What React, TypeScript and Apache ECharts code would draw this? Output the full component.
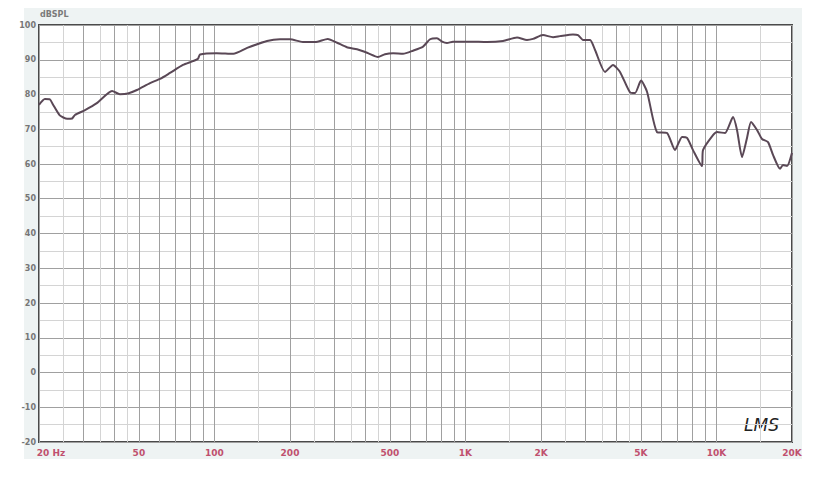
import React, { useEffect, useRef } from "react";
import * as echarts from "echarts";

// Frequency response (Hz -> dB SPL)
const FREQ = [20, 21.1, 22.1, 22.7, 24.2, 25.9, 27.1, 27.8, 30.5, 34.0, 39.1, 42.0, 45.2, 49.1, 55.4, 60.7, 66.5, 74.9, 82.1, 86, 87.6, 102, 119, 135, 162, 182.5, 200, 225, 252, 283, 308, 337, 370, 409, 448, 478, 515, 564, 618, 678, 723, 770, 807, 844, 892, 1043, 1219, 1412, 1605, 1759, 1858, 2037, 2233, 2380, 2682, 2808, 2940, 3137, 3284, 3598, 3872, 4128, 4526, 4738, 5006, 5290, 5798, 6356, 6839, 7293, 7635, 8066, 8758, 8840, 9690, 10052, 10818, 11642, 12077, 12644, 13236, 13732, 14510, 15193, 16052, 16805, 17920, 18418, 19108, 20000];
const SPL = [77.0, 78.7, 78.6, 77.2, 74.0, 73.0, 73.1, 74.1, 75.5, 77.5, 81.0, 80.1, 80.3, 81.3, 83.3, 84.5, 86.2, 88.5, 89.6, 90.3, 91.5, 91.9, 91.7, 93.4, 95.4, 95.9, 95.9, 95.1, 95.1, 96.0, 94.9, 93.6, 93.0, 91.9, 90.8, 91.6, 91.9, 91.7, 92.6, 93.8, 95.9, 96.2, 95.2, 94.8, 95.2, 95.2, 95.1, 95.4, 96.4, 95.7, 96.0, 97.1, 96.5, 96.8, 97.3, 97.1, 95.7, 95.7, 92.8, 86.5, 88.5, 86.5, 80.6, 80.4, 84.0, 80.8, 69.2, 68.9, 64.0, 67.8, 67.5, 64.0, 59.4, 64.0, 68.3, 69.2, 68.9, 73.5, 69.8, 62.0, 67.5, 72.1, 69.8, 67.2, 66.3, 62.6, 58.6, 59.7, 59.4, 63.2];

// Axis ticks / grid
const X_LABEL_FREQS = [20, 50, 100, 200, 500, 1000, 2000, 5000, 10000, 20000];
const X_LABEL_TEXTS = ["20 Hz", "50", "100", "200", "500", "1K", "2K", "5K", "10K", "20K"];
const GRID_MAJOR = [20, 30, 40, 50, 60, 70, 80, 90, 100, 200, 300, 400, 500, 600, 700, 800, 900, 1000, 2000, 3000, 4000, 5000, 6000, 7000, 8000, 9000, 10000, 20000];
const GRID_MINOR = [25, 35, 45, 150, 250, 350, 450, 1500, 2500, 3500, 4500, 15000];
const Y_MIN = -20;
const Y_MAX = 100;
const Y_STEP = 10;
const F_MIN = 20;
const F_MAX = 20000;

export default function App() {
  const ref = useRef<HTMLDivElement>(null);
  useEffect(() => {
    if (!ref.current) return;
    const chart = echarts.init(ref.current, null, { renderer: "svg" });
    const lg = (f: number) => Math.log10(f);
    const xMin = lg(F_MIN);
    const xMax = lg(F_MAX);
    const labelFor = (v: number) => {
      for (let i = 0; i < X_LABEL_FREQS.length; i++) {
        if (Math.abs(lg(X_LABEL_FREQS[i]) - v) < 1e-6) return X_LABEL_TEXTS[i];
      }
      return "";
    };
    chart.setOption({
      animation: false,
      backgroundColor: "#ffffff",
      grid: {
        left: 39,
        top: 25,
        right: 22,
        bottom: 35,
        show: true,
        backgroundColor: "#ffffff",
        borderColor: "#4a4a4a",
        borderWidth: 2,
      },
      graphic: [
        {
          type: "rect",
          z: -10,
          shape: { x: 24, y: 8, width: 778, height: 451 },
          style: { fill: "#eef3f3" },
        },
        {
          type: "text",
          left: 40,
          top: 10,
          style: { text: "dBSPL", fill: "#7a7a7a", font: "bold 8px 'DejaVu Sans'" },
        },
        {
          type: "text",
          left: 744,
          top: 416,
          style: { text: "LMS", fill: "#222", font: "italic 17px 'DejaVu Sans'" },
        },
      ],
      xAxis: [
        {
          type: "value",
          min: xMin,
          max: xMax,
          position: "bottom",
          axisLine: { show: false },
          axisTick: { show: false, customValues: GRID_MAJOR.map(lg) },
          splitLine: { show: true, lineStyle: { color: "#a0a0a0", width: 1 } },
          axisLabel: {
            customValues: X_LABEL_FREQS.map(lg),
            formatter: (v: number) => {
              const t = labelFor(v);
              return t === "20 Hz" ? "{a|" + t + "}" : t;
            },
            rich: { a: { padding: [0, 0, 0, 24], color: "#c0506e", fontSize: 9, fontWeight: "bold", fontFamily: "DejaVu Sans" } },
            color: "#c0506e",
            fontSize: 9,
            fontWeight: "bold",
            fontFamily: "DejaVu Sans",
            margin: 6,
          },
        },
        {
          type: "value",
          min: xMin,
          max: xMax,
          position: "bottom",
          axisLine: { show: false },
          axisTick: { show: false, customValues: GRID_MINOR.map(lg) },
          axisLabel: { show: false },
          splitLine: { show: true, lineStyle: { color: "#d4d4d4", width: 1 } },
        },
      ],
      yAxis: {
        type: "value",
        min: Y_MIN,
        max: Y_MAX,
        interval: Y_STEP,
        axisLine: { show: false },
        axisTick: { show: false },
        axisLabel: { color: "#767676", fontSize: 8, fontWeight: "bold", fontFamily: "DejaVu Sans", margin: 3 },
        splitLine: { show: true, lineStyle: { color: "#a0a0a0", width: 1 } },
        minorTick: { show: false, splitNumber: 2 },
        minorSplitLine: { show: true, lineStyle: { color: "#d4d4d4", width: 1 } },
      },
      series: [
        {
          type: "line",
          xAxisIndex: 0,
          data: FREQ.map((f, i) => [lg(f), SPL[i]]),
          showSymbol: false,
          smooth: 0.2,
          lineStyle: { color: "#5a4856", width: 2 },
          z: 5,
        },
      ],
    });
    return () => chart.dispose();
  }, []);
  return (
    <div
      ref={ref}
      style={{ position: "fixed", left: 0, top: 0, width: 814, height: 477 }}
    />
  );
}
